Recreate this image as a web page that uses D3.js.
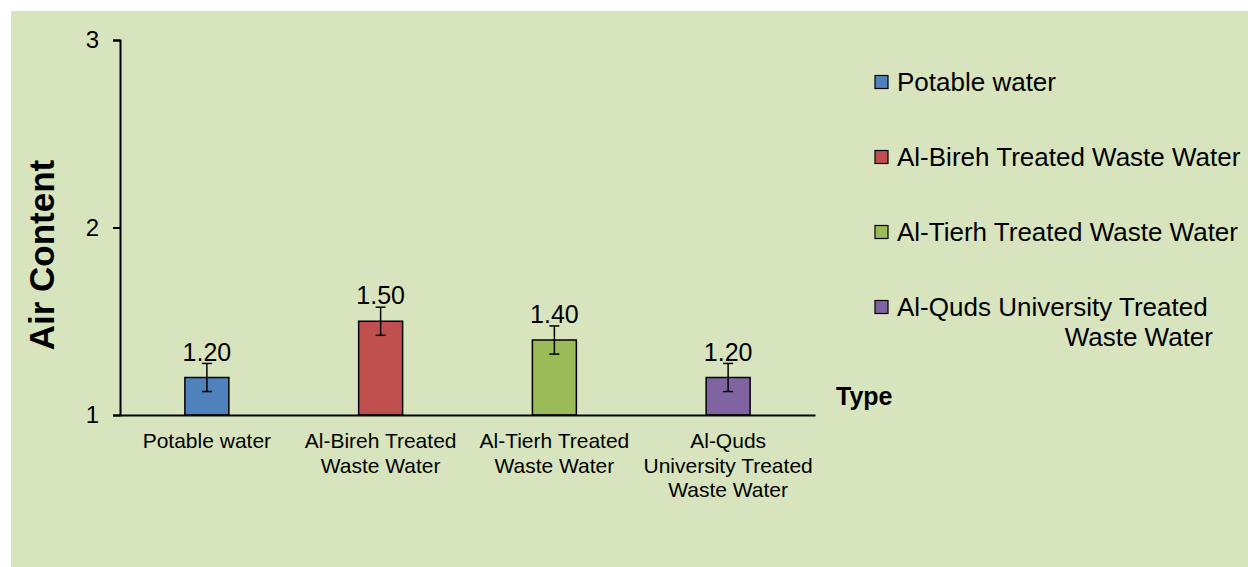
<!DOCTYPE html>
<html><head><meta charset="utf-8">
<script src="https://cdn.jsdelivr.net/npm/d3@7"></script>
<style>body{margin:0;background:#fff}svg{display:block;font-family:"Liberation Sans",Arial,sans-serif}</style>
</head><body><svg id="c" width="1248" height="567"></svg>
<script>
const categories = ["Potable water","Al-Bireh Treated Waste Water","Al-Tierh Treated Waste Water","Al-Quds University Treated Waste Water"];
const categoryLines = [["Potable water"],["Al-Bireh Treated","Waste Water"],["Al-Tierh Treated","Waste Water"],["Al-Quds","University Treated","Waste Water"]];
const values = [1.20,1.50,1.40,1.20];
const errors = [0.075,0.075,0.075,0.075];
const colors = ["#4f81bd","#c0504d","#9bbb59","#8064a2"];
const yTicks = [1,2,3];
const legendLines = [["Potable water"],["Al-Bireh Treated Waste Water"],["Al-Tierh Treated Waste Water"],["Al-Quds University Treated","Waste Water"]];

const svg = d3.select("#c");
svg.append("rect").attr("x",11).attr("y",11).attr("width",1237).attr("height",556).attr("fill","#d7e4bd");

const x = d3.scaleBand().domain(categories).range([120,815]).padding(0);
const y = d3.scaleLinear().domain([1,3]).range([415,40]);
const bw = x.bandwidth()*0.253;

// bars
svg.selectAll("rect.bar").data(categories).join("rect").attr("class","bar")
  .attr("x",(d)=>x(d)+x.bandwidth()/2-bw/2)
  .attr("y",(d,i)=>y(values[i]))
  .attr("width",bw)
  .attr("height",(d,i)=>y(1)-y(values[i]))
  .attr("fill",(d,i)=>colors[i]).attr("stroke","#000").attr("stroke-width",1.5);

// error bars
const eb = svg.selectAll("g.eb").data(categories).join("g").attr("class","eb")
  .attr("transform",d=>`translate(${x(d)+x.bandwidth()/2},0)`);
eb.append("line").attr("x1",0).attr("x2",0).attr("y1",(d,i)=>y(values[i]+errors[i])).attr("y2",(d,i)=>y(values[i]-errors[i])).attr("stroke","#000").attr("stroke-width",1.5);
eb.append("line").attr("x1",-5).attr("x2",5).attr("y1",(d,i)=>y(values[i]+errors[i])).attr("y2",(d,i)=>y(values[i]+errors[i])).attr("stroke","#000").attr("stroke-width",1.5);
eb.append("line").attr("x1",-5).attr("x2",5).attr("y1",(d,i)=>y(values[i]-errors[i])).attr("y2",(d,i)=>y(values[i]-errors[i])).attr("stroke","#000").attr("stroke-width",1.5);

// data labels
svg.selectAll("text.dl").data(categories).join("text").attr("class","dl")
  .attr("x",d=>x(d)+x.bandwidth()/2).attr("y",(d,i)=>y(values[i])-17)
  .attr("text-anchor","middle").attr("font-size",25).attr("fill","#000")
  .text((d,i)=>values[i].toFixed(2));

// y axis
const yAxis = svg.append("g").attr("transform","translate(120,0)")
  .call(d3.axisLeft(y).tickValues(yTicks).tickFormat(d3.format("d")).tickSize(7).tickPadding(14));
yAxis.select(".domain").attr("stroke","#000").attr("stroke-width",2);
yAxis.selectAll(".tick line").attr("stroke","#000").attr("stroke-width",2);
yAxis.selectAll(".tick text").attr("font-size",24).attr("fill","#000").attr("font-family","Liberation Sans, Arial, sans-serif");

// x axis
const xAxis = svg.append("g").attr("transform","translate(0,415)")
  .call(d3.axisBottom(x).tickSize(0).tickFormat(""));
xAxis.select(".domain").attr("stroke","#000").attr("stroke-width",2);
xAxis.selectAll(".tick").each(function(d,i){
  const t = d3.select(this).append("text").attr("text-anchor","middle").attr("font-size",21)
    .attr("fill","#000").attr("font-family","Liberation Sans, Arial, sans-serif");
  categoryLines[i].forEach((ln,j)=>t.append("tspan").attr("x",0).attr("y",33+j*24.5).text(ln));
});

// axis titles
svg.append("text").attr("transform","translate(54,255) rotate(-90)").attr("text-anchor","middle")
  .attr("font-size",35).attr("font-weight","bold").attr("fill","#000").text("Air Content");
svg.append("text").attr("x",836).attr("y",405).attr("font-size",25).attr("font-weight","bold").attr("fill","#000").text("Type");

// legend
const lg = svg.selectAll("g.lg").data(categories).join("g").attr("class","lg")
  .attr("transform",(d,i)=>`translate(875,${82+i*75})`);
lg.append("rect").attr("x",0).attr("y",-6.5).attr("width",13).attr("height",13)
  .attr("fill",(d,i)=>colors[i]).attr("stroke","#000").attr("stroke-width",1.2);
lg.each(function(d,i){
  const g = d3.select(this);
  legendLines[i].forEach((ln,j)=>{
    const t = g.append("text").attr("y",9+j*30).attr("font-size",26).attr("fill","#000").text(ln);
    if(j===0) t.attr("x",22); else t.attr("x",338).attr("text-anchor","end");
  });
});
</script></body></html>
